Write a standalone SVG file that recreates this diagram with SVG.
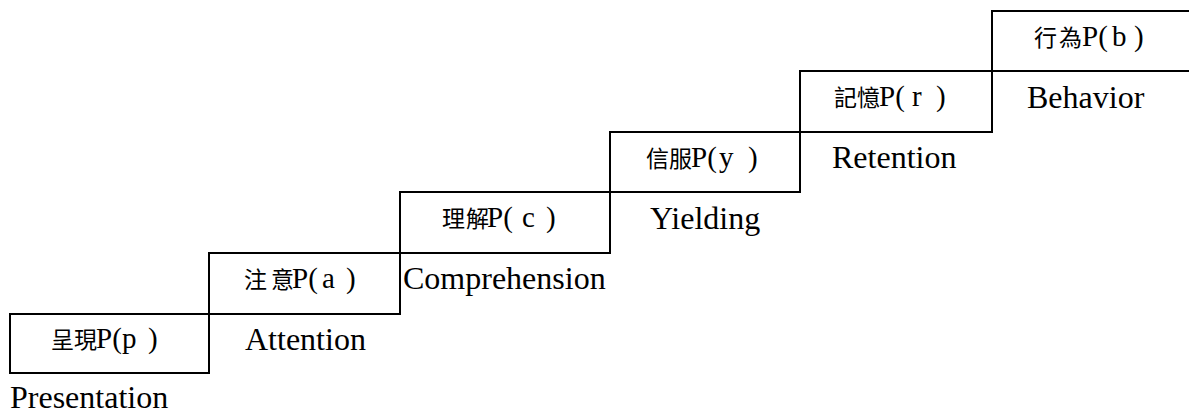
<svg xmlns="http://www.w3.org/2000/svg" width="1189" height="414" viewBox="0 0 1189 414">
<style>
.box{fill:none;stroke:#000;stroke-width:2}
.zh{font-family:"Liberation Serif","Noto Sans CJK TC",serif;font-size:23px;fill:#000}
.zh tspan.l{font-size:29px}
.en{font-family:"Liberation Serif",serif;font-size:32px;fill:#000}
</style>
<rect width="1189" height="414" fill="#fff"/>
<g id="presentation">
<rect class="box" x="10" y="314" width="199" height="59"/>
<text class="zh" y="348"><tspan x="51 74">呈現</tspan><tspan class="l" x="96">P(</tspan><tspan class="l" x="122">p</tspan><tspan class="l" x="148">)</tspan></text>
<text class="en" x="10" y="408">Presentation</text>
</g>
<g id="attention">
<rect class="box" x="209" y="253" width="191" height="61"/>
<text class="zh" y="288"><tspan x="244 271">注意</tspan><tspan class="l" x="292">P(</tspan><tspan class="l" x="322">a</tspan><tspan class="l" x="346">)</tspan></text>
<text class="en" x="245" y="350">Attention</text>
</g>
<g id="comprehension">
<rect class="box" x="400" y="192" width="210" height="61"/>
<text class="zh" y="227"><tspan x="442 466">理解</tspan><tspan class="l" x="487">P(</tspan><tspan class="l" x="522">c</tspan><tspan class="l" x="546">)</tspan></text>
<text class="en" x="403" y="289">Comprehension</text>
</g>
<g id="yielding">
<rect class="box" x="610" y="132" width="190" height="60"/>
<text class="zh" y="167"><tspan x="646 669">信服</tspan><tspan class="l" x="691">P(</tspan><tspan class="l" x="719">y</tspan><tspan class="l" x="748">)</tspan></text>
<text class="en" x="650" y="229">Yielding</text>
</g>
<g id="retention">
<rect class="box" x="800" y="71" width="192" height="61"/>
<text class="zh" y="106"><tspan x="834 857">記憶</tspan><tspan class="l" x="879">P(</tspan><tspan class="l" x="912">r</tspan><tspan class="l" x="936">)</tspan></text>
<text class="en" x="832" y="168">Retention</text>
</g>
<g id="behavior">
<rect class="box" x="992" y="11" width="200" height="60"/>
<text class="zh" y="46"><tspan x="1034 1059">行為</tspan><tspan class="l" x="1082">P(</tspan><tspan class="l" x="1112">b</tspan><tspan class="l" x="1134">)</tspan></text>
<text class="en" x="1027" y="108">Behavior</text>
</g>
<g id="connectors"></g>
</svg>
